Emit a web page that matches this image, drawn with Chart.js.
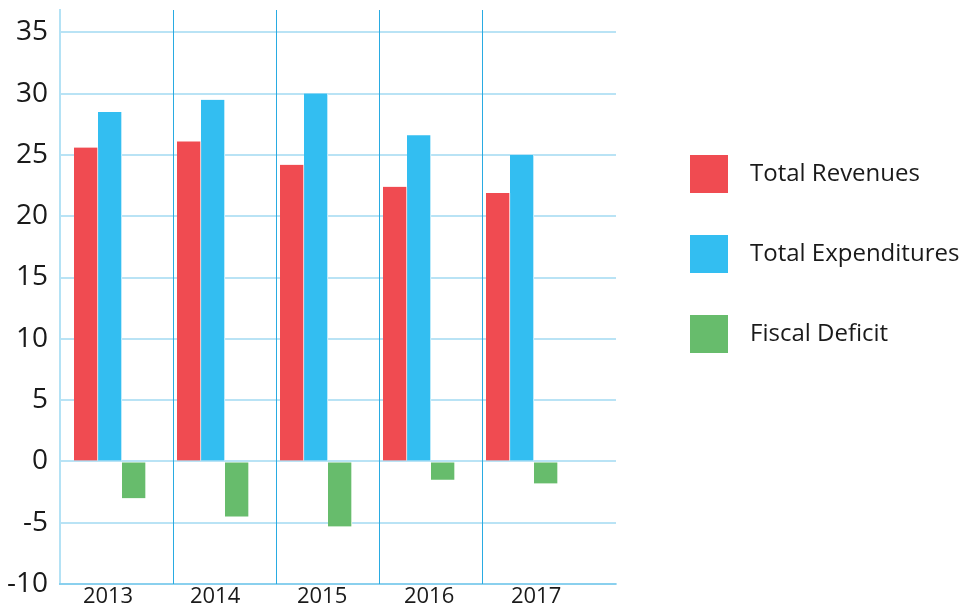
<!DOCTYPE html>
<html>
<head>
<meta charset="utf-8">
<script src="https://cdn.jsdelivr.net/npm/chart.js@4"></script>
<style>
  html, body { margin: 0; padding: 0; background: #ffffff; }
  #wrap { width: 967px; height: 607px; position: relative; }
</style>
</head>
<body>
<div id="wrap"><canvas id="chart"></canvas></div>
<script>
// ---- data ----
const years = ['2013', '2014', '2015', '2016', '2017'];
const revenues = [25.6, 26.1, 24.2, 22.4, 21.9];
const expenditures = [28.5, 29.5, 30.0, 26.6, 25.0];
const deficit = [-3.0, -4.5, -5.3, -1.5, -1.8];
const seriesNames = ['Total Revenues', 'Total Expenditures', 'Fiscal Deficit'];
const yTickValues = [-10, -5, 0, 5, 10, 15, 20, 25, 30, 35];

// ---- layout / style (not data) ----
const X_MIN = -0.4854, X_MAX = 4.9126;      // index-axis range
const LABEL_START = -0.019, LABEL_STEP = 1.039; // year label placement
const DIVIDER_OFFSET = 0.6117;               // vertical divider placement
const Y_MIN = -10, Y_MAX = 36.82;
const LEGEND_WIDTH = 309;
const COLORS = ['#F04B51', '#33BEF1', '#67BC6C'];
const TEXT = '#1a1a1a';
const FONT = "'Open Sans', sans-serif";

const series = [revenues, expenditures, deficit];
const datasets = series.map((vals, s) => ({
  label: seriesNames[s],
  data: vals.map((v, i) => ({ x: i, y: v })),
  backgroundColor: COLORS[s],
  borderColor: '#ffffff',
  borderWidth: { left: 0, right: 1, top: 0, bottom: 0 },
  borderSkipped: false,
  barThickness: 24
}));

const legendWidthPlugin = {
  id: 'legendWidth',
  beforeLayout(chart) {
    const lg = chart.legend;
    if (lg && !lg._fixedWidth) {
      const fit = lg.fit;
      lg.fit = function () { fit.call(this); this.width = LEGEND_WIDTH; };
      lg._fixedWidth = true;
    }
  }
};

Chart.defaults.font.family = FONT;
Chart.defaults.color = TEXT;

new Chart(document.getElementById('chart'), {
  type: 'bar',
  data: { datasets },
  options: {
    responsive: true,
    maintainAspectRatio: false,
    animation: false,
    devicePixelRatio: 1,
    layout: { padding: { top: 10, left: 0, right: 0, bottom: 0 } },
    plugins: {
      tooltip: { enabled: false },
      legend: {
        position: 'right',
        align: 'start',
        title: { display: true, text: '', padding: 0, font: { size: 10, lineHeight: '113px' } },
        labels: {
          boxWidth: 58,
          boxHeight: 58,
          padding: 22,
          color: TEXT,
          font: { size: 24, family: FONT },
          generateLabels(chart) {
            return Chart.defaults.plugins.legend.labels.generateLabels(chart).map(it =>
              Object.assign(it, { lineWidth: 20, strokeStyle: '#ffffff' }));
          }
        }
      }
    },
    scales: {
      x: {
        type: 'linear',
        position: 'bottom',
        min: X_MIN, max: X_MAX,
        offset: false,
        grid: { display: false, drawTicks: false, offset: false },
        border: { display: true, color: 'rgba(41,171,226,0.33)', width: 2 },
        ticks: {
          autoSkip: false, maxRotation: 0, padding: 2,
          font: { size: 22, lineHeight: 1 },
          color: TEXT,
          callback: (v, i) => years[i]
        },
        afterBuildTicks: s => { s.ticks = years.map((_, i) => ({ value: LABEL_START + i * LABEL_STEP })); },
        afterFit: s => { s.height = 23; s.paddingLeft = 0; s.paddingRight = 0; }
      },
      x2: {
        type: 'linear',
        position: 'top',
        min: X_MIN, max: X_MAX,
        offset: false,
        grid: { display: true, color: '#29ABE2', lineWidth: 1, drawTicks: false, offset: false },
        border: { display: false },
        ticks: { display: false },
        afterBuildTicks: s => { s.ticks = years.slice(1).map((_, i) => ({ value: i + DIVIDER_OFFSET })); },
        afterFit: s => { s.height = 0; s.paddingLeft = 0; s.paddingRight = 0; }
      },
      y: {
        type: 'linear',
        position: 'left',
        min: Y_MIN, max: Y_MAX,
        z: 1,
        grid: { color: 'rgba(41,171,226,0.33)', lineWidth: 2, drawTicks: false },
        border: { display: true, color: 'rgba(41,171,226,0.35)', width: 2 },
        ticks: { padding: 12, font: { size: 28 }, color: TEXT },
        afterBuildTicks: s => { s.ticks = yTickValues.map(v => ({ value: v })); },
        afterFit: s => { s.width = 60; s.paddingTop = 0; s.paddingBottom = 0; }
      },
      y2: {
        type: 'linear',
        position: 'right',
        grid: { display: false, drawTicks: false },
        border: { display: false },
        ticks: { display: false },
        afterFit: s => { s.width = 42; s.paddingTop = 0; s.paddingBottom = 0; }
      }
    }
  },
  plugins: [legendWidthPlugin]
});
</script>
</body>
</html>
